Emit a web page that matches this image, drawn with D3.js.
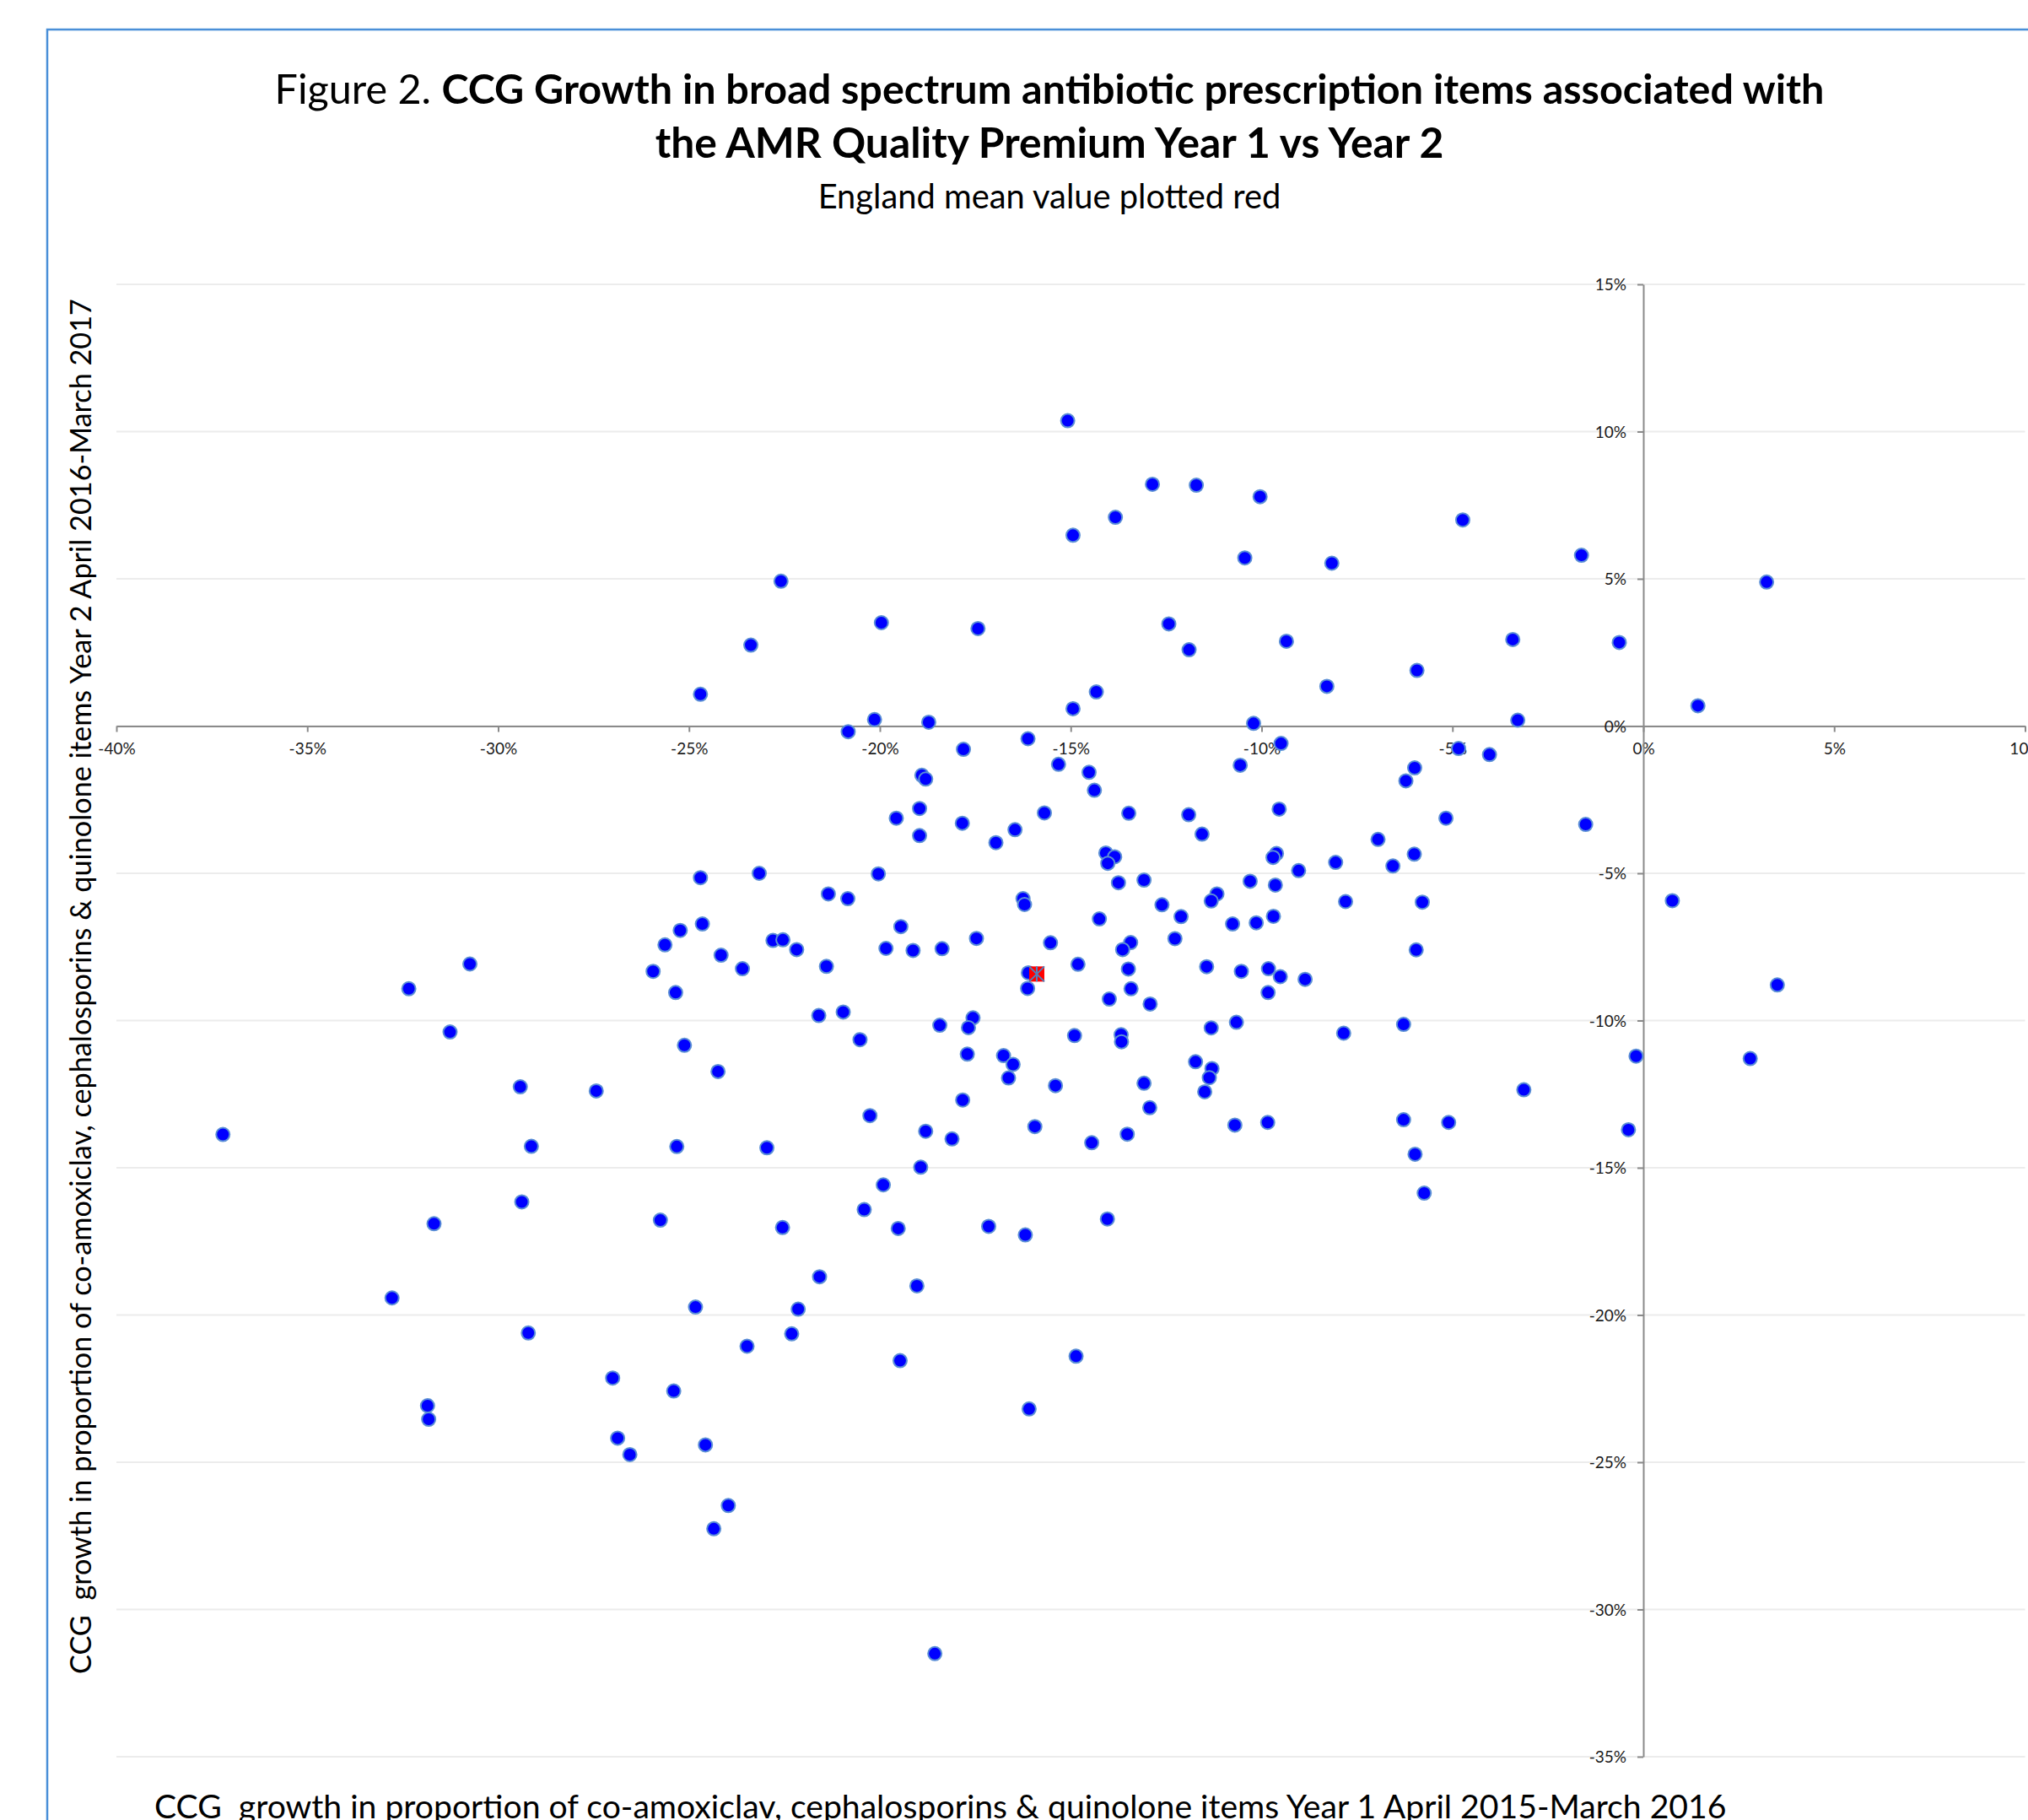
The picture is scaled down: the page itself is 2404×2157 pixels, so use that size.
<!DOCTYPE html>
<html>
<head>
<meta charset="utf-8">
<script src="https://cdn.jsdelivr.net/npm/d3@7"></script>
<style>
  html, body { margin: 0; padding: 0; background: #ffffff; }
  svg { display: block; }
  text { font-family: Lato, "Open Sans", "Noto Sans", sans-serif; }
</style>
</head>
<body>
<svg id="chart" width="2404" height="2157"></svg>
<script>
// ---------------- DATA ----------------
// Year 1 growth (x, %) and Year 2 growth (y, %) for each CCG
const year1Growth = [
  -15.08,-12.86,-11.71,-10.04,-13.83,-4.73,-14.94,-10.44,-8.16,-1.62,
  -22.59,3.23,-19.96,-12.43,-17.43,-23.38,-9.35,-3.42,-0.63,-11.90,
  -5.93,-8.29,-24.70,-14.33,-14.94,1.43,-20.14,-18.72,-10.21,-3.29,
  -20.83,-16.12,-9.49,-4.84,-4.03,-17.81,-15.32,-10.56,-14.52,-14.38,
  -18.90,-18.80,-5.99,-6.22,-1.51,-5.17,-13.48,-11.91,-9.54,-15.69,
  -19.57,-18.96,-17.84,-18.96,-16.46,-16.96,-11.56,-6.95,-6.00,-6.56,
  -9.61,-9.70,-14.08,-13.85,-14.03,-8.06,-9.03,-23.16,-20.04,-24.70,
  -21.35,-20.84,-13.75,-13.08,-10.30,-9.64,-11.17,-11.32,-7.80,-5.79,
  0.76,-16.25,-16.21,-12.61,-12.11,-14.25,-10.76,-10.14,-9.69,-24.65,
  -25.23,-19.45,-25.63,-22.80,-22.54,-17.47,-15.53,-13.43,-13.64,-12.27,
  -19.84,-19.13,-18.37,-22.18,-24.16,-5.95,-14.81,-13.49,-11.44,-10.53,
  -9.82,-9.51,-8.86,-23.60,-21.40,-25.94,-30.74,-32.34,-25.35,-16.11,
  -16.13,-13.42,-13.99,-12.92,-9.83,3.51,-31.26,-20.96,-21.60,-17.56,
  -17.68,-18.43,-10.66,-7.85,-6.28,-11.32,-13.68,-13.67,-14.90,-20.52,
  -25.12,-17.71,-16.76,-16.51,-16.63,-11.73,-11.30,-11.37,-24.24,-0.19,
  2.80,-29.42,-27.43,-13.08,-15.40,-11.49,-3.13,-17.83,-12.93,-20.26,
  -6.28,-10.70,-9.84,-5.10,-15.94,-18.80,-13.52,-18.11,-37.21,-29.13,
  -25.32,-22.96,-14.45,-0.39,-5.98,-18.93,-19.91,-5.74,-29.38,-20.41,
  -25.75,-31.68,-22.55,-19.52,-17.15,-14.04,-16.19,-21.58,-19.03,-32.78,
  -22.14,-24.83,-29.21,-22.31,-23.48,-14.86,-19.47,-27.00,-25.40,-31.85,
  -31.82,-16.09,-26.87,-24.57,-26.55,-23.97,-24.35,-18.56
];
const year2Growth = [
  10.37,8.21,8.18,7.79,7.09,7.00,6.48,5.71,5.53,5.80,
  4.92,4.89,3.51,3.47,3.31,2.75,2.88,2.94,2.84,2.59,
  1.89,1.35,1.08,1.16,0.59,0.69,0.22,0.13,0.09,0.20,
  -0.19,-0.43,-0.59,-0.76,-0.97,-0.79,-1.30,-1.33,-1.57,-2.18,
  -1.67,-1.80,-1.42,-1.86,-3.34,-3.13,-2.96,-3.01,-2.82,-2.95,
  -3.13,-2.80,-3.30,-3.72,-3.52,-3.96,-3.67,-3.85,-4.35,-4.75,
  -4.33,-4.46,-4.31,-4.44,-4.66,-4.63,-4.91,-5.00,-5.02,-5.15,
  -5.70,-5.86,-5.32,-5.23,-5.27,-5.40,-5.70,-5.94,-5.96,-5.98,
  -5.93,-5.86,-6.06,-6.07,-6.47,-6.55,-6.72,-6.68,-6.46,-6.72,
  -6.94,-6.81,-7.43,-7.28,-7.26,-7.21,-7.36,-7.35,-7.59,-7.22,
  -7.55,-7.62,-7.56,-7.59,-7.78,-7.60,-8.09,-8.25,-8.17,-8.33,
  -8.24,-8.51,-8.60,-8.24,-8.16,-8.33,-8.08,-8.92,-9.05,-8.38,
  -8.91,-8.92,-9.27,-9.44,-9.05,-8.79,-10.39,-9.71,-9.83,-9.91,
  -10.24,-10.16,-10.06,-10.43,-10.13,-10.25,-10.48,-10.72,-10.51,-10.65,
  -10.84,-11.14,-11.19,-11.49,-11.95,-11.40,-11.63,-11.94,-11.73,-11.21,
  -11.29,-12.25,-12.39,-12.13,-12.21,-12.42,-12.35,-12.70,-12.96,-13.23,
  -13.37,-13.55,-13.46,-13.46,-13.60,-13.76,-13.86,-14.02,-13.87,-14.27,
  -14.28,-14.32,-14.15,-13.71,-14.54,-14.98,-15.58,-15.86,-16.16,-16.42,
  -16.78,-16.90,-17.03,-17.06,-16.99,-16.74,-17.28,-18.70,-19.01,-19.42,
  -19.80,-19.73,-20.61,-20.64,-21.06,-21.40,-21.55,-22.14,-22.58,-23.08,
  -23.54,-23.19,-24.18,-24.41,-24.74,-26.47,-27.26,-31.50
];
// England mean value (plotted red)
const meanYear1 = [-15.89];
const meanYear2 = [-8.42];

const xTicks = [-40, -35, -30, -25, -20, -15, -10, -5, 0, 5, 10];
const yTicks = [15, 10, 5, 0, -5, -10, -15, -20, -25, -30, -35];

const titlePrefix = "Figure 2. ";
const titleLine1 = "CCG Growth in broad spectrum antibiotic prescription items associated with";
const titleLine2 = "the AMR Quality Premium Year 1 vs Year 2";
const subtitle = "England mean value plotted red";
const yTitle = "CCG  growth in proportion of co-amoxiclav, cephalosporins & quinolone items Year 2 April 2016-March 2017";
const xTitle = "CCG  growth in proportion of co-amoxiclav, cephalosporins & quinolone items Year 1 April 2015-March 2016";

// ---------------- LAYOUT ----------------
const svg = d3.select("#chart");
const x = d3.scaleLinear().domain([-40, 10]).range([138, 2400.5]);
const y = d3.scaleLinear().domain([-35, 15]).range([2082, 337]);

function fitWidth(sel, target) {
  const w = sel.node().getComputedTextLength();
  const fs = parseFloat(sel.attr("font-size"));
  sel.attr("font-size", (fs * target / w).toFixed(2));
}

// outer frame
svg.append("rect")
  .attr("x", 56).attr("y", 35)
  .attr("width", 2404).attr("height", 2200)
  .attr("fill", "none")
  .attr("stroke", "#4a8fd8")
  .attr("stroke-width", 2.5);

// titles
const t1 = svg.append("text")
  .attr("x", 1244).attr("y", 123)
  .attr("text-anchor", "middle")
  .attr("font-size", 40)
  .attr("fill", "#000");
t1.append("tspan").attr("font-weight", "normal").text(titlePrefix);
t1.append("tspan").attr("font-weight", "bold").text(titleLine1);
fitWidth(t1, 1837);

const t2 = svg.append("text")
  .attr("x", 1244).attr("y", 187)
  .attr("text-anchor", "middle")
  .attr("font-size", 40)
  .attr("font-weight", "bold")
  .attr("fill", "#000")
  .text(titleLine2);
fitWidth(t2, 935);

const st = svg.append("text")
  .attr("x", 1244).attr("y", 247)
  .attr("text-anchor", "middle")
  .attr("font-size", 38)
  .attr("fill", "#000")
  .text(subtitle);
fitWidth(st, 549);

// horizontal gridlines
svg.append("g")
  .selectAll("line")
  .data(yTicks)
  .join("line")
  .attr("x1", x(-40)).attr("x2", x(10))
  .attr("y1", d => y(d)).attr("y2", d => y(d))
  .attr("stroke", "#ececec")
  .attr("stroke-width", 2);

// axes
const fmt = d => d + "%";
const gx = svg.append("g")
  .attr("transform", `translate(0,${y(0)})`)
  .call(d3.axisBottom(x).tickValues(xTicks).tickFormat(fmt).tickSize(7).tickSizeOuter(0).tickPadding(13));
const gy = svg.append("g")
  .attr("transform", `translate(${x(0)},0)`)
  .call(d3.axisLeft(y).tickValues(yTicks).tickFormat(fmt).tickSize(7).tickSizeOuter(0).tickPadding(13));

[gx, gy].forEach(g => {
  g.select(".domain").attr("stroke", "#8a8a8a").attr("stroke-width", 2);
  g.selectAll(".tick line").attr("stroke", "#8a8a8a").attr("stroke-width", 2);
  g.selectAll(".tick text")
    .attr("font-family", "Lato, 'Open Sans', sans-serif")
    .attr("font-size", 19)
    .attr("fill", "#1a1a1a");
});
gy.selectAll(".tick text").attr("dy", "0.36em");

// data points
const pts = year1Growth.map((v, i) => ({ x: v, y: year2Growth[i] }));
svg.append("g")
  .selectAll("circle")
  .data(pts)
  .join("circle")
  .attr("cx", d => x(d.x))
  .attr("cy", d => y(d.y))
  .attr("r", 8)
  .attr("fill", "#0000ff")
  .attr("stroke", "#5b8fd6")
  .attr("stroke-width", 2);

// England mean marker
const mean = meanYear1.map((v, i) => ({ x: v, y: meanYear2[i] }));
const mg = svg.append("g")
  .selectAll("g")
  .data(mean)
  .join("g")
  .attr("transform", d => `translate(${x(d.x)},${y(d.y)})`);
const h = 9;
mg.append("rect")
  .attr("x", -h).attr("y", -h).attr("width", 2 * h).attr("height", 2 * h)
  .attr("fill", "#ff0000");
mg.append("path")
  .attr("d", `M0,${-h}V${h}M${-h},${-h}L${h},${h}M${h},${-h}L${-h},${h}`)
  .attr("stroke", "#4f81bd")
  .attr("stroke-width", 2)
  .attr("fill", "none");

// axis titles
const yt = svg.append("text")
  .attr("transform", "translate(108,1169) rotate(-90)")
  .attr("text-anchor", "middle")
  .attr("font-size", 36)
  .attr("fill", "#000")
  .style("white-space", "pre")
  .text(yTitle);
fitWidth(yt, 1630);

const xt = svg.append("text")
  .attr("x", 183).attr("y", 2155)
  .attr("text-anchor", "start")
  .attr("font-size", 38)
  .attr("fill", "#000")
  .style("white-space", "pre")
  .text(xTitle);
fitWidth(xt, 1864);
</script>
</body>
</html>
